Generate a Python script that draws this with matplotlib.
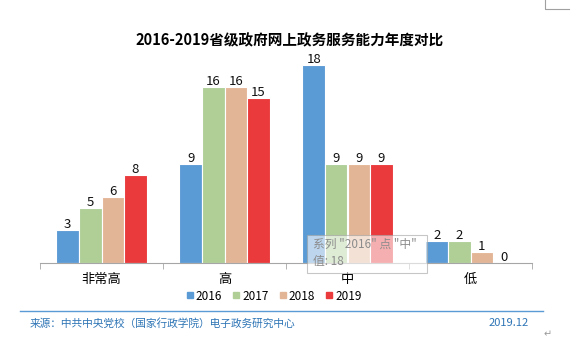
import matplotlib
matplotlib.use('Agg')
from matplotlib import pyplot as plt
from matplotlib.lines import Line2D
from matplotlib.patches import FancyBboxPatch
import numpy as np

plt.rcParams['font.family'] = ['Noto Sans CJK SC', 'DejaVu Sans']

categories = ['非常高', '高', '中', '低']
years = ['2016', '2017', '2018', '2019']
v2016 = [3, 9, 18, 2]
v2017 = [5, 16, 9, 2]
v2018 = [6, 16, 9, 1]
v2019 = [8, 15, 9, 0]
series = [v2016, v2017, v2018, v2019]
colors = ['#5b9bd5', '#afcf97', '#e3b597', '#ea3a3c']

W, H = 581, 351
fig = plt.figure(figsize=(W / 100, H / 100), dpi=100)
ax = fig.add_axes([40 / W, (H - 263) / H, (532 - 40) / W, 220 / H])

x = np.arange(len(categories))
step = 0.183
for i, (vals, c) in enumerate(zip(series, colors)):
    pos = x + (i - 1.5) * step
    ax.bar(pos, vals, width=step, color=c, edgecolor='white', linewidth=0.8, label=years[i])
    for xp, v in zip(pos, vals):
        ax.text(xp, v - 0.05, str(v), ha='center', va='bottom', fontsize=9.5, color='#111111')

ax.set_xlim(-0.5, 3.5)
ax.set_ylim(0, 20)
ax.set_yticks([])
for s in ['top', 'right', 'left']:
    ax.spines[s].set_visible(False)
ax.spines['bottom'].set_color('#a6a6a6')
ax.set_xticks(x)
ax.set_xticklabels(categories, fontsize=9.5)
ax.tick_params(axis='x', which='major', length=0, pad=7)
ax.set_xticks(np.arange(-0.5, 4, 1), minor=True)
ax.tick_params(axis='x', which='minor', length=4, color='#a6a6a6')

# 标题
fig.text(290 / W, 1 - 40 / H, '2016-2019省级政府网上政务服务能力年度对比',
         ha='center', va='center', fontsize=10.5, fontweight='bold')

# 图例
handles = [Line2D([], [], marker='s', linestyle='', markersize=4.5, color=c) for c in colors]
fig.legend(handles, years, loc='center', bbox_to_anchor=(274 / W, 1 - 296 / H), ncol=4,
           frameon=False, fontsize=8.5, handlelength=0.6, handletextpad=0.2, columnspacing=0.9)

# 底部来源
fig.add_artist(Line2D([20 / W, 543 / W], [1 - 311 / H, 1 - 311 / H], color='#5b9bd5', linewidth=1))
fig.text(30 / W, 1 - 323 / H, '来源：中共中央党校（国家行政学院）电子政务研究中心',
         ha='left', va='center', fontsize=7.7, color='#2e75b6')
fig.text(529 / W, 1 - 323 / H, '2019.12', ha='right', va='center', fontsize=8, color='#2e75b6')
fig.text(548 / W, 1 - 334 / H, '↵', ha='center', va='center', fontsize=7, color='#9a9a9a',
         family=['DejaVu Sans'])

# 右上角标记
fig.add_artist(Line2D([545 / W, 545 / W, 569 / W], [1.0, 1 - 9 / H, 1 - 9 / H], color='#a0a0a0', linewidth=0.8))

# 提示框
tip = FancyBboxPatch((307 / W, 1 - 273 / H), 120 / W, 38 / H, boxstyle='square,pad=0',
                     transform=fig.transFigure, facecolor='white', alpha=0.6,
                     edgecolor='#a0a0a0', linewidth=0.8)
fig.add_artist(tip)
fig.text(313 / W, 1 - 244 / H, '系列 "2016" 点 "中"', ha='left', va='center', fontsize=8.5, color='#8c8c8c')
fig.text(313 / W, 1 - 262 / H, '值: 18', ha='left', va='center', fontsize=8.5, color='#8c8c8c')

fig.savefig('out.png', dpi=100)
